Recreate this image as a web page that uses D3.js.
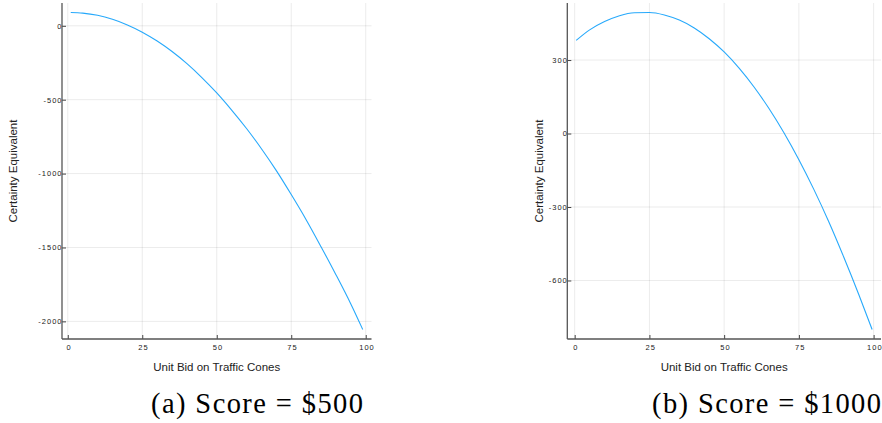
<!DOCTYPE html>
<html>
<head>
<meta charset="utf-8">
<script src="https://cdn.jsdelivr.net/npm/d3@7/dist/d3.min.js"></script>
<style>
  html, body { margin: 0; padding: 0; background: #fff; }
  svg { display: block; }
</style>
</head>
<body>
<svg id="chart" width="882" height="423"></svg>
<script>
// ---- data ----
const bidsA = [1, 5, 10, 15, 20, 25, 30, 35, 40, 45, 50, 55, 60, 65, 70, 75, 80, 85, 90, 95, 99];
const ceA   = [90, 86, 71, 44, 6, -43, -103, -174, -256, -350, -454, -570, -695, -832, -980, -1142, -1312, -1495, -1684, -1882, -2055];

const bidsB = [0.5, 5, 10, 15, 20, 25, 30, 35, 40, 45, 50, 55, 60, 65, 70, 75, 80, 85, 90, 95, 99.5];
const ceB   = [380, 423, 457, 481, 493, 494, 484, 463, 431, 387, 333, 267, 190, 102, 3, -107, -228, -360, -504, -656, -800];

const xTicks  = [0, 25, 50, 75, 100];
const yTicksA = [0, -500, -1000, -1500, -2000];
const yTicksB = [300, 0, -300, -600];

const xTitle = "Unit Bid on Traffic Cones";
const yTitle = "Certainty Equivalent";
const captionA = "(a) Score = $500";
const captionB = "(b) Score = $1000";

// ---- drawing ----
const svg = d3.select("#chart");

function padded(lo, hi) {
  const p = (hi - lo) * 0.03;
  return [lo - p, hi + p];
}

function panel(opts) {
  const { bids, vals, yTicks, left, right, top, bottom, yLabelX, caption, capX, capW } = opts;
  const g = svg.append("g");
  const x = d3.scaleLinear().domain(padded(d3.min(bids), d3.max(bids))).range([left, right]);
  const yd = padded(d3.min(vals), d3.max(vals));
  const y = d3.scaleLinear().domain(yd).range([bottom, top]);

  // grid
  g.append("g").selectAll("line").data(xTicks).join("line")
    .attr("x1", d => x(d)).attr("x2", d => x(d))
    .attr("y1", top).attr("y2", bottom)
    .attr("stroke", "#000").attr("stroke-opacity", 0.1).attr("stroke-width", 0.8);
  g.append("g").selectAll("line").data(yTicks).join("line")
    .attr("x1", left).attr("x2", right)
    .attr("y1", d => y(d)).attr("y2", d => y(d))
    .attr("stroke", "#000").attr("stroke-opacity", 0.1).attr("stroke-width", 0.8);

  // axes
  const xAxis = d3.axisBottom(x).tickValues(xTicks).tickSize(-4).tickPadding(4).tickFormat(d3.format("d"));
  const yAxis = d3.axisLeft(y).tickValues(yTicks).tickSize(-4).tickPadding(4).tickFormat(d3.format("d"));

  const gx = g.append("g").attr("transform", `translate(0,${bottom})`).call(xAxis);
  const gy = g.append("g").attr("transform", `translate(${left},0)`).call(yAxis);
  [gx, gy].forEach(a => {
    a.select(".domain").remove();
    a.selectAll(".tick line").attr("stroke", "#444").attr("stroke-width", 1);
    a.selectAll(".tick text")
      .attr("fill", "#222")
      .style("font-family", "'Liberation Sans', Arial, sans-serif")
      .style("font-size", "7.5px")
      .style("letter-spacing", "1px");
  });
  gy.selectAll(".tick text").attr("dx", "0.6em");
  gx.selectAll(".tick text").attr("dy", "0.9em").attr("dx", "0.1em");
  gy.selectAll(".tick text").text(d => d3.format("d")(d).replace("\u2212", "-"));

  // axis lines
  g.append("line").attr("x1", left).attr("x2", right).attr("y1", bottom).attr("y2", bottom)
    .attr("stroke", "#555").attr("stroke-width", 1.3);
  g.append("line").attr("x1", left).attr("x2", left).attr("y1", top).attr("y2", bottom)
    .attr("stroke", "#555").attr("stroke-width", 1.3);

  // series
  const line = d3.line().x((d, i) => x(bids[i])).y(d => y(d)).curve(d3.curveMonotoneX);
  g.append("path").datum(vals).attr("d", line)
    .attr("fill", "none").attr("stroke", "#009AFA").attr("stroke-width", 1.1).attr("stroke-opacity", 0.85);

  // titles
  g.append("text").text(xTitle)
    .attr("x", x(50)).attr("y", 371)
    .attr("text-anchor", "middle")
    .attr("fill", "#222")
    .style("font-family", "'Liberation Sans', Arial, sans-serif")
    .style("font-size", "11.5px");
  g.append("text").text(yTitle)
    .attr("transform", `translate(${yLabelX},${(top + bottom) / 2}) rotate(-90)`)
    .attr("text-anchor", "middle")
    .attr("fill", "#222")
    .style("font-family", "'Liberation Sans', Arial, sans-serif")
    .style("font-size", "11.5px");

  // caption
  g.append("text").text(caption)
    .attr("x", capX).attr("y", 413)
    .attr("textLength", capW).attr("lengthAdjust", "spacing")
    .attr("fill", "#000")
    .style("font-family", "'Liberation Serif', 'DejaVu Serif', serif")
    .style("font-size", "28.5px");
}

panel({ bids: bidsA, vals: ceA, yTicks: yTicksA, left: 62, right: 371.5, top: 3, bottom: 339,
        yLabelX: 17, caption: captionA, capX: 151, capW: 212 });
panel({ bids: bidsB, vals: ceB, yTicks: yTicksB, left: 567.3, right: 881, top: 3, bottom: 339,
        yLabelX: 543, caption: captionB, capX: 652, capW: 229 });
</script>
</body>
</html>
